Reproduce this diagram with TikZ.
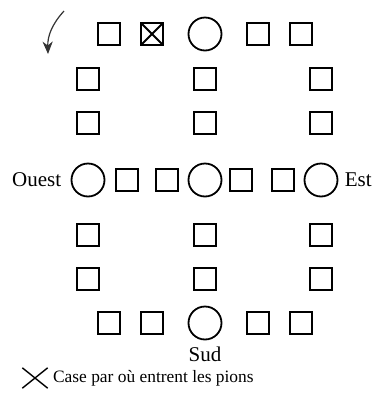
\documentclass[tikz,border=0pt]{standalone}
\usepackage{fontspec}
\setmainfont{Liberation Serif}
\usetikzlibrary{arrows.meta,positioning,shapes.misc}

\begin{document}
\begin{tikzpicture}[x=0.5pt,y=-0.5pt,
  cell/.style={draw,line width=0.9pt,minimum size=11pt,inner sep=0pt},
  entry/.style={cell,path picture={\draw[line width=0.9pt]
    (path picture bounding box.north west) -- (path picture bounding box.south east)
    (path picture bounding box.north east) -- (path picture bounding box.south west);}},
  safe/.style={draw,circle,line width=0.9pt,minimum size=16.5pt,inner sep=0pt},
  lbl/.style={font=\fontsize{10.5}{12}\selectfont,inner sep=0pt},
  keytxt/.style={font=\fontsize{8.7}{10}\selectfont,inner sep=0pt},
  arr/.style={-{Stealth[length=2.2mm,width=1.8mm]},line width=0.6pt,black!80}]
  \useasboundingbox (0,0) rectangle (374,408);
  \node[cell] (t1) at (109,34) {};
  \node[entry] (t2) at (152,34) {};
  \node[safe] (tC) at (205,34) {};
  \node[cell] (t4) at (258,34) {};
  \node[cell] (t5) at (301,34) {};
  \node[cell] (l1) at (88,79) {};
  \node[cell] (m1) at (205,79) {};
  \node[cell] (r1) at (321,79) {};
  \node[cell] (l2) at (88,123) {};
  \node[cell] (m2) at (205,123) {};
  \node[cell] (r2) at (321,123) {};
  \node[safe] (cW) at (88,180) {};
  \node[cell] (w2) at (127,180) {};
  \node[cell] (w3) at (167,180) {};
  \node[safe] (cC) at (205,180) {};
  \node[cell] (e3) at (241,180) {};
  \node[cell] (e2) at (283,180) {};
  \node[safe] (cE) at (321,180) {};
  \node[cell] (l3) at (88,235) {};
  \node[cell] (m3) at (205,235) {};
  \node[cell] (r3) at (321,235) {};
  \node[cell] (l4) at (88,279) {};
  \node[cell] (m4) at (205,279) {};
  \node[cell] (r4) at (321,279) {};
  \node[cell] (b1) at (109,323) {};
  \node[cell] (b2) at (152,323) {};
  \node[safe] (cS) at (205,323) {};
  \node[cell] (b4) at (258,323) {};
  \node[cell] (b5) at (301,323) {};
  \node[lbl,left=4.5pt of cW] (west) {Ouest};
  \node[lbl,right=3pt of cE] (east) {Est};
  \node[lbl,below=3pt of cS] (south) {Sud};
  \node[cross out,draw,line width=0.7pt,minimum width=12pt,minimum height=9.5pt,
    inner sep=0pt] (key) at (35,378) {};
  \node[keytxt,right=2.5pt of key] (keylbl) {Case par où entrent les pions};
  \coordinate (turnA) at (64,11);
  \coordinate (turnB) at (48,54);
  \draw[arr] (turnA) to[bend right=22] (turnB);
\end{tikzpicture}
\end{document}
